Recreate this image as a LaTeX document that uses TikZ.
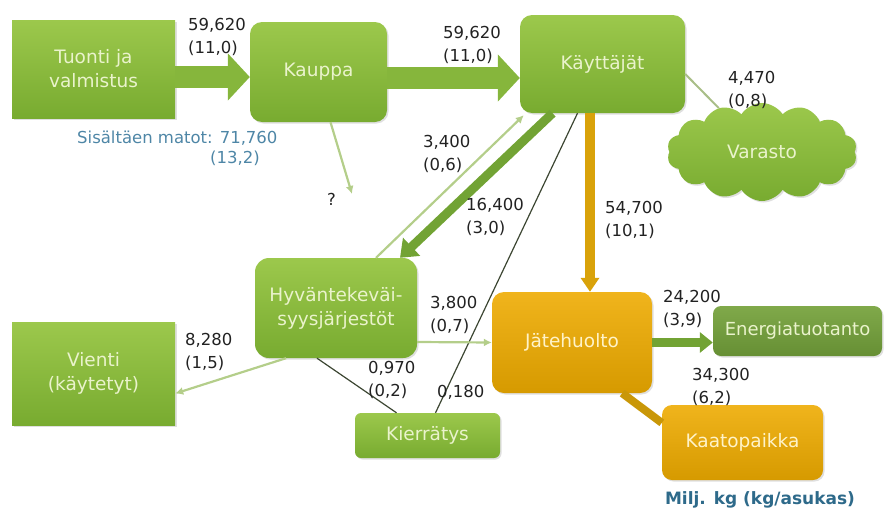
\documentclass[tikz,border=0pt]{standalone}
\usepackage{fontspec}
\setmainfont{DejaVu Sans}
\usetikzlibrary{arrows.meta,shapes.symbols,shadows}
\definecolor{gA}{HTML}{9CC84C}
\definecolor{gB}{HTML}{78AB30}
\definecolor{gtxt}{HTML}{EAF3CC}
\definecolor{oA}{HTML}{F0B41C}
\definecolor{oB}{HTML}{D69A00}
\definecolor{otxt}{HTML}{FFF3C8}
\definecolor{eA}{HTML}{80A94A}
\definecolor{eB}{HTML}{668F34}
\definecolor{lbl}{HTML}{222222}
\definecolor{blu}{HTML}{4E86A6}
\definecolor{unit}{HTML}{2E6A8A}
\definecolor{thinG}{HTML}{B4CE8A}
\definecolor{darkL}{HTML}{3C4632}
\definecolor{arrG}{HTML}{86B63C}
\definecolor{arrG2}{HTML}{72A334}
\definecolor{arrO}{HTML}{D9A20A}
\definecolor{arrO2}{HTML}{C99708}
\tikzset{
  gbox/.style={draw=none, top color=gA, bottom color=gB, text=gtxt,
    font=\fontsize{18.5}{24}\selectfont, align=center, inner sep=0pt,
    drop shadow={opacity=0.25, shadow xshift=1.5pt, shadow yshift=-1.5pt}},
  rbox/.style={gbox, rounded corners=12pt},
  obox/.style={rbox, top color=oA, bottom color=oB, text=otxt},
  lab/.style={anchor=north west, inner sep=0pt, font=\fontsize{16.5}{23}\selectfont,
    text=lbl, align=left},
  bigarrow/.style={draw=arrG, line width=22pt, -{Triangle[length=22pt,width=46pt]}},
  thinarrow/.style={draw=thinG, line width=2.2pt, -{Latex[length=8pt,width=8pt]}},
  darkline/.style={draw=darkL, line width=1.2pt},
}
\begin{document}
\begin{tikzpicture}[x=1pt,y=-1pt]
\useasboundingbox (0,0) rectangle (885,514);
% nodes
\node[gbox, minimum width=163pt, minimum height=98pt] (tuonti) at (93.5,69) {Tuonti ja\\valmistus};
\node[rbox, minimum width=137pt, minimum height=100pt] (kauppa) at (318.5,72) {Kauppa};
\node[rbox, minimum width=165pt, minimum height=98pt] (kayt) at (602.5,64) {Käyttäjät};
\node[cloud, cloud puffs=14, cloud puff arc=115, aspect=2, draw=none, top color=gA, bottom color=gB,
  text=gtxt, font=\fontsize{18.5}{24}\selectfont, inner sep=0pt,
  minimum width=190pt, minimum height=98pt,
  drop shadow={opacity=0.25, shadow xshift=1.5pt, shadow yshift=-1.5pt}] (varasto) at (762,152) {Varasto};
\node[rbox, rounded corners=14pt, minimum width=162pt, minimum height=100pt] (hyv) at (336,308) {Hyväntekeväi-\\syysjärjestöt};
\node[gbox, minimum width=163pt, minimum height=103pt] (vienti) at (93.5,373.5) {Vienti\\(käytetyt)};
\node[obox, minimum width=160pt, minimum height=101pt] (jate) at (572,342.5) {Jätehuolto};
\node[rbox, rounded corners=8pt, top color=eA, bottom color=eB, minimum width=169pt, minimum height=50pt, font=\fontsize{18}{23}\selectfont] (ener) at (797.5,331) {Energiatuotanto};
\node[obox, rounded corners=10pt, minimum width=161pt, minimum height=75pt] (kaat) at (742.5,442.5) {Kaatopaikka};
\node[rbox, rounded corners=6pt, minimum width=145pt, minimum height=45pt] (kier) at (427.5,435.5) {Kierrätys};
% connectors
\draw[bigarrow] ([yshift=-8pt]tuonti.east) -- ([yshift=-5pt]kauppa.west);
\draw[bigarrow] ([yshift=-6pt]kauppa.east) -- ([yshift=-14pt]kayt.west);
\coordinate (q) at (352,194);
\draw[thinarrow] ([xshift=12pt]kauppa.south) -- (q);
\draw[draw=arrO, line width=10pt, -{Triangle[length=14pt,width=18pt]}] ([xshift=-12.5pt]kayt.south) -- ([xshift=18pt]jate.north);
\draw[draw=arrG2, line width=9pt, -{Triangle[length=16pt,width=24pt]}] ([xshift=-50pt]kayt.south) -- ([xshift=64pt]hyv.north);
\draw[thinarrow] ([xshift=40pt]hyv.north) -- ([xshift=4pt,yshift=-2pt]kayt.south west);
\draw[darkline] ([xshift=-25pt]kayt.south) -- ([xshift=8pt]kier.north);
\draw[darkline] ([xshift=-19pt]hyv.south) -- ([xshift=-31pt]kier.north);
\draw[thinarrow] ([yshift=-34pt]hyv.east) -- (jate.west);
\draw[thinarrow] ([xshift=-50pt]hyv.south) -- ([yshift=-20pt]vienti.east);
\draw[draw=thinG!80!gray, line width=2pt] ([yshift=-10pt]kayt.east) -- (varasto);
\draw[draw=arrG2, line width=9pt, -{Triangle[length=13pt,width=20pt]}] (jate.east) -- (ener.west |- jate.east);
\draw[draw=arrO2, line width=8pt] ([xshift=-30pt]jate.south east) -- ([yshift=-18pt]kaat.north west);
% labels
\node[lab] (l1) at (188,18) {59,620\\(11,0)};
\node[lab] (l2) at (443,26) {59,620\\(11,0)};
\node[lab] (l3) at (423,135) {3,400\\(0,6)};
\node[lab] (l4) at (466,198) {16,400\\(3,0)};
\node[lab] (l5) at (605,201) {54,700\\(10,1)};
\node[lab] (l6) at (728,71) {4,470\\(0,8)};
\node[lab] (l7) at (185,333) {8,280\\(1,5)};
\node[lab] (l8) at (430,296) {3,800\\(0,7)};
\node[lab] (l9) at (368,361) {0,970\\(0,2)};
\node[lab] (l10) at (437,385) {0,180};
\node[lab] (l11) at (663,290) {24,200\\(3,9)};
\node[lab] (l12) at (692,368) {34,300\\(6,2)};
\node[lab] (lq) at (327,193) {?};
\node[lab, text=blu] (sis1) at (77,131) {Sisältäen matot: 71,760};
\node[lab, text=blu] (sis2) at (210,151) {(13,2)};
\node[anchor=center, inner sep=0pt, text=unit, font=\bfseries\fontsize{17}{20}\selectfont] (unitlab) at (760,500) {Milj. kg (kg/asukas)};
\end{tikzpicture}
\end{document}
